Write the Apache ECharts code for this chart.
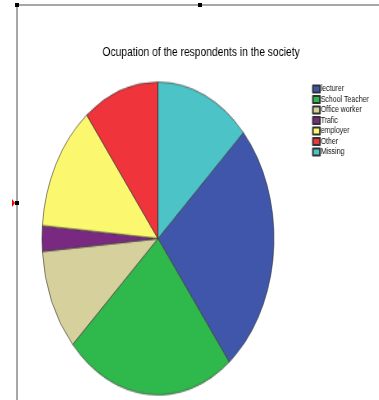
<!DOCTYPE html>
<html><head><meta charset="utf-8">
<script src="https://cdn.jsdelivr.net/npm/echarts@6/dist/echarts.min.js"></script>
<style>
html,body{margin:0;padding:0;background:#fff;}
#wrap{position:relative;width:379px;height:400px;overflow:hidden;}
#pie{position:absolute;left:0;top:0;width:379px;height:400px;transform:scaleY(1.349);transform-origin:158px 238.5px;}
#frame{position:absolute;left:0;top:0;width:379px;height:400px;}
#text{position:absolute;left:0;top:0;width:463px;height:400px;transform:scaleX(0.82);transform-origin:0 0;}
</style></head>
<body><div id="wrap"><div id="pie"></div><div id="frame"></div><div id="text"></div></div>
<script>
const categories = ['lecturer','School Teacher','Office worker','Trafic','employer','Other','Missing'];
const counts = [20, 18, 8, 2, 10, 8, 10];
const colors = ['#3f56aa','#2fb84b','#d6d09c','#792a80','#fbf86f','#f0343c','#4cc4c7'];
const title = 'Ocupation of the respondents in the society';

const data = categories.map((c,i)=>({name:c, value:counts[i], itemStyle:{color:colors[i]}}));
const total = counts.reduce((a,b)=>a+b,0);
const startAngle = 90 - counts[counts.length-1]/total*360;
const SX = 0.82;

const pie = echarts.init(document.getElementById('pie'));
pie.setOption({
  animation:false,
  series:[{
    type:'pie', center:[158,238.5], radius:[0,116], startAngle:startAngle, clockwise:true,
    label:{show:false}, labelLine:{show:false}, silent:true,
    itemStyle:{borderColor:'#333', borderWidth:0.6},
    data:data
  }]
});

const frame = echarts.init(document.getElementById('frame'));
frame.setOption({
  animation:false,
  graphic:[
    {type:'line', shape:{x1:17,y1:5,x2:379,y2:5}, style:{stroke:'#8a8a8a', lineWidth:1.5}},
    {type:'line', shape:{x1:17,y1:5,x2:17,y2:400}, style:{stroke:'#8a8a8a', lineWidth:1.5}},
    {type:'rect', shape:{x:15,y:3,width:4,height:4}, style:{fill:'#000'}},
    {type:'rect', shape:{x:198,y:3,width:4,height:4}, style:{fill:'#000'}},
    {type:'rect', shape:{x:15,y:201,width:4,height:4}, style:{fill:'#000'}},
    {type:'polygon', shape:{points:[[12,199],[12,207],[15,203]]}, style:{fill:'#e00'}}
  ]
});

const font = 'Liberation Sans, Arial, sans-serif';
const text = echarts.init(document.getElementById('text'));
text.setOption({
  animation:false,
  title:{text:title, left:197/SX, top:41, textAlign:'center',
    textStyle:{fontFamily:font, fontSize:12.5, fontWeight:'normal', color:'#000'}},
  legend:{orient:'vertical', left:308/SX, top:79.5, itemWidth:7/SX, itemHeight:7, itemGap:1.5, icon:'rect',
    textStyle:{fontFamily:font, fontSize:8.5, color:'#111', padding:[0,0,0,-4]},
    data:categories},
  series:[{
    type:'pie', center:[-100,-100], radius:[0,0], silent:true,
    label:{show:false}, labelLine:{show:false},
    itemStyle:{borderColor:'#333', borderWidth:0.7},
    data:data
  }]
});
</script></body></html>
